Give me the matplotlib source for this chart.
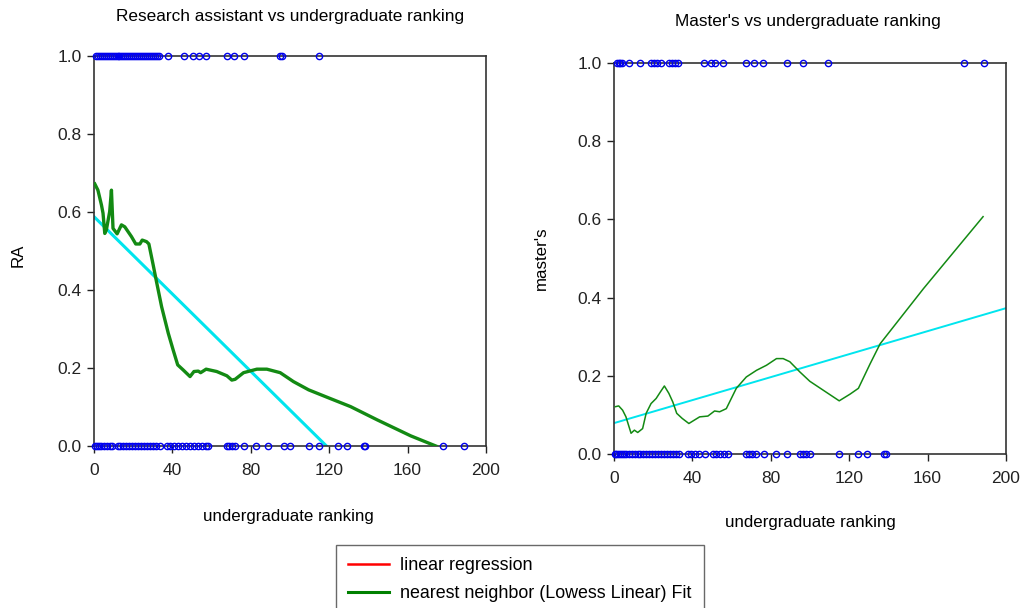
import matplotlib
matplotlib.use("Agg")
import matplotlib.pyplot as plt
from matplotlib.lines import Line2D

plt.rcParams['font.family'] = ['Liberation Sans', 'DejaVu Sans']

# ---- data: research assistant panel ----
ra_x1 = [1, 2, 3, 4, 5, 6, 7, 8, 9, 10, 11, 12, 13, 14, 15, 16, 17, 18, 19, 20,
         21, 22, 23, 24, 25, 26, 27, 28, 29, 30, 31, 32, 33,
         37.9, 45.9, 50.7, 53.7, 57.2, 67.8, 71.5, 76.3, 95, 95.9, 114.6]
ra_x0 = [0.5, 1.5, 2.5, 3.5, 5, 6.5, 8, 9,
         12, 13.5, 15, 16.5, 18, 19.5, 21, 22.5, 24, 25.5, 27, 28.5, 30, 31.5, 33.5,
         37, 39, 41, 43, 45, 47, 49, 51, 53, 55, 57, 58.4,
         67.8, 69, 70.5, 72, 76.3, 82.6, 88.7, 96.7, 99.8, 109.5, 115,
         124.4, 129.2, 137.7, 138.5, 178.3, 188.9]
ra_lin_x = [0, 118.6]
ra_lin_y = [0.588, 0.0]
ra_low_x = [0.4, 2, 3.8, 4.6, 5.5, 6.3, 8.0, 8.9, 9.7, 11.8, 14, 15.7, 19.1, 21.3,
            23.4, 24.6, 26.8, 28, 30.2, 31.9, 34.5, 37.9, 40.4, 42.7, 45.5, 49,
            51, 53.2, 54.4, 57.2, 62.6, 67.8, 70.3, 72, 76.3, 83.1, 88.2, 95,
            101.8, 109.5, 118.9, 130.9, 144.5, 161.6, 174.4]
ra_low_y = [0.672, 0.656, 0.618, 0.597, 0.545, 0.554, 0.601, 0.656, 0.558, 0.544,
            0.567, 0.562, 0.537, 0.518, 0.518, 0.528, 0.524, 0.518, 0.464, 0.421,
            0.357, 0.289, 0.246, 0.208, 0.195, 0.178, 0.191, 0.192, 0.188, 0.197,
            0.191, 0.180, 0.169, 0.171, 0.188, 0.197, 0.197, 0.188, 0.165, 0.144,
            0.125, 0.101, 0.067, 0.026, 0.0]

# ---- data: master's panel ----
ms_x1 = [1.7, 2.5, 3.3, 4.3, 7.8, 13.3, 18.9, 20.5, 22, 24, 28.3, 29.5, 31, 32.6,
         45.7, 49.6, 51.3, 55.6, 67.5, 71.3, 76, 88.5, 96.5, 109.3, 178.4, 188.6]
ms_x0 = [0.3, 1, 2, 3, 4, 5, 6, 7.5, 9, 10.5, 12, 13.5, 15, 16.5, 18, 19.5, 21,
         22.5, 24, 25.5, 27, 28.5, 30, 31.5, 33.4,
         37.5, 39.5, 41.5, 43.5, 46.2, 50.3, 52, 54, 56, 58,
         67.5, 69, 70.5, 72.7, 76.4, 82.5, 88.5, 94.7, 96.5, 98, 99.8,
         115, 124.7, 129, 137.5, 138.7]
ms_lin_x = [0, 200]
ms_lin_y = [0.079, 0.373]
ms_low_x = [0.7, 2.4, 4.4, 6.1, 8.7, 10.4, 12.1, 14.6, 16.4, 18.9, 21.5, 23.7,
            25.7, 28, 30, 32, 34.8, 38.2, 41.1, 43.7, 47.9, 51.3, 53.9, 57.3,
            62.4, 67.5, 72.7, 77.8, 82.9, 86.3, 89.7, 94.8, 99.9, 106.8, 114.9,
            120.4, 124.7, 130.7, 135.8, 157.9, 188.3]
ms_low_y = [0.121, 0.123, 0.112, 0.095, 0.053, 0.061, 0.055, 0.065, 0.104, 0.129,
            0.142, 0.159, 0.174, 0.155, 0.133, 0.104, 0.091, 0.078, 0.087, 0.095,
            0.097, 0.110, 0.108, 0.116, 0.168, 0.197, 0.214, 0.227, 0.244, 0.244,
            0.236, 0.210, 0.186, 0.163, 0.136, 0.153, 0.168, 0.231, 0.282, 0.423,
            0.607]

W, H = 1023, 608
fig = plt.figure(figsize=(W / 100, H / 100), dpi=100)


def make_axes(l, r, t, b):
    return fig.add_axes([l / W, 1 - b / H, (r - l) / W, (b - t) / H])


def style(ax, title, ylabel, title_xy, xlab_xy, ylab_xy):
    ax.set_xlim(0, 200)
    ax.set_ylim(0, 1)
    ax.set_xticks([0, 40, 80, 120, 160, 200])
    ax.set_yticks([0, 0.2, 0.4, 0.6, 0.8, 1.0])
    ax.set_yticklabels(['0.0', '0.2', '0.4', '0.6', '0.8', '1.0'])
    ax.tick_params(direction='out', length=5, width=1, labelsize=12.5,
                   colors='#222222')
    ax.tick_params(axis='x', pad=7)
    ax.tick_params(axis='y', pad=4)
    for s in ax.spines.values():
        s.set_color('#333333')
        s.set_linewidth(1.2)
    ax.text(title_xy[0], title_xy[1], title, transform=ax.transAxes,
            ha='center', va='center', fontsize=12.4)
    ax.set_xlabel('undergraduate ranking', fontsize=12.2)
    ax.xaxis.set_label_coords(*xlab_xy)
    ax.xaxis.label.set_va('center')
    ax.set_ylabel(ylabel, fontsize=12.2)
    ax.yaxis.set_label_coords(*ylab_xy)
    ax.yaxis.label.set_va('center')


def points(ax, xs, yv):
    ax.plot(xs, [yv] * len(xs), 'o', mfc='none', mec='#0000ee', ms=4.5,
            mew=1.0, clip_on=False, zorder=4)


ax1 = make_axes(94, 486, 56, 446)
ax1.plot(ra_lin_x, ra_lin_y, color='#00e5ee', lw=2.2, zorder=2)
ax1.plot(ra_low_x, ra_low_y, color='#138a13', lw=2.4, zorder=3)
points(ax1, ra_x1, 1.0)
points(ax1, ra_x0, 0.0)
style(ax1, 'Research assistant vs undergraduate ranking', 'RA',
      (0.5, 1.1), (0.495, -0.182), (-0.194, 0.49))

ax2 = make_axes(614, 1006, 63, 454)
ax2.plot(ms_lin_x, ms_lin_y, color='#00e5ee', lw=1.4, zorder=2)
ax2.plot(ms_low_x, ms_low_y, color='#138a13', lw=1.1, zorder=3)
points(ax2, ms_x1, 1.0)
points(ax2, ms_x0, 0.0)
style(ax2, "Master's vs undergraduate ranking", "master's",
      (0.495, 1.105), (0.5, -0.174), (-0.186, 0.5))

handles = [Line2D([], [], color='red', lw=1.8),
           Line2D([], [], color='green', lw=2.2)]
leg = fig.legend(handles, ['linear regression', 'nearest neighbor (Lowess Linear) Fit'],
                 loc='upper left', bbox_to_anchor=(336 / W, 1 - 545 / H),
                 fontsize=12.9, frameon=True, fancybox=False, borderaxespad=0,
                 handlelength=2.3, handletextpad=0.6, labelspacing=0.6,
                 borderpad=0.68)
leg.get_frame().set_edgecolor('#444444')
leg.get_frame().set_linewidth(1.0)

fig.savefig('out.png', dpi=100)
